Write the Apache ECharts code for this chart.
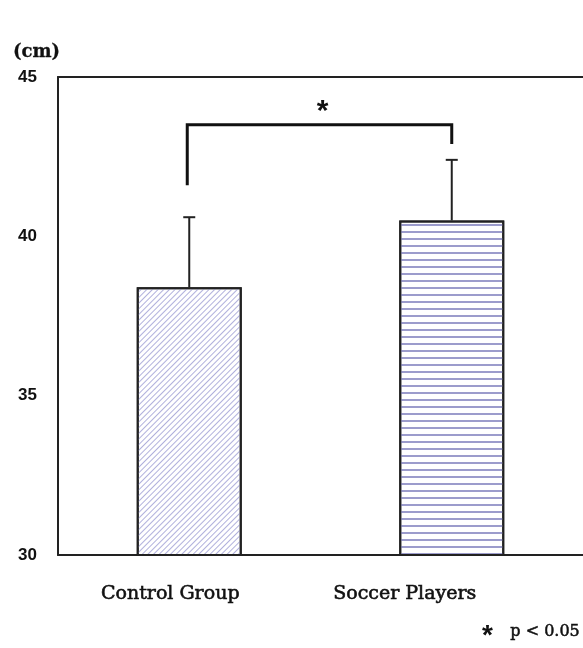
<!DOCTYPE html>
<html>
<head>
<meta charset="utf-8">
<script src="https://cdn.jsdelivr.net/npm/echarts@6/dist/echarts.min.js"></script>
<style>
  html, body { margin: 0; padding: 0; background: #fff; }
  #chart { width: 583px; height: 648px; }
</style>
</head>
<body>
<div id="chart"></div>
<script>
// data
var groups = ['Control Group', 'Soccer Players']
var means = [38.4, 40.5]
var sds = [2.2, 1.9]
var yTicks = [30, 35, 40, 45]
// significance bracket: [category index, lower end value], top at bracketTop
var bracketEnds = [[0, 41.6], [1, 42.9]]
var bracketTop = 43.5
var sigMark = '*'
var footnote = 'p < 0.05'

var serif = '"DejaVu Serif", "Liberation Serif", serif'
var ink = '#111'

var myChart = echarts.init(document.getElementById('chart'))
myChart.setOption({
  animation: false,
  title: {
    text: '(cm)',
    left: 8,
    top: 38,
    textStyle: { fontFamily: serif, fontSize: 18, color: ink, textBorderColor: ink, textBorderWidth: 0.3 }
  },
  graphic: [
    {
      type: 'text',
      left: 482,
      top: 622,
      style: { text: sigMark, font: 'bold 28px "Liberation Sans", sans-serif', fill: ink }
    },
    {
      type: 'text',
      right: 3,
      top: 624,
      style: { text: footnote, font: '16px ' + serif, fill: ink, stroke: ink, lineWidth: 0.5 }
    }
  ],
  grid: {
    left: 58,
    top: 77,
    right: 0,
    bottom: 93
  },
  xAxis: [
    {
      type: 'category',
      data: groups,
      axisLine: { lineStyle: { color: '#222', width: 2 } },
      axisTick: { show: false },
      axisLabel: {
        margin: 30,
        formatter: function (v, i) { return '{l' + i + '|' + v + '}' },
        rich: {
          l0: { fontFamily: serif, fontSize: 19, color: ink, textBorderColor: ink, textBorderWidth: 0.6, padding: [0, 38, 0, 0] },
          l1: { fontFamily: serif, fontSize: 19, color: ink, textBorderColor: ink, textBorderWidth: 0.6, padding: [0, 94, 0, 0] }
        }
      }
    },
    {
      // top frame line only
      type: 'category',
      position: 'top',
      data: groups,
      axisLine: { lineStyle: { color: '#222', width: 2 } },
      axisTick: { show: false },
      axisLabel: { show: false }
    }
  ],
  yAxis: {
    type: 'value',
    min: yTicks[0],
    max: yTicks[yTicks.length - 1],
    interval: 5,
    splitLine: { show: false },
    axisTick: { show: false },
    axisLine: { show: true, lineStyle: { color: '#222', width: 2 } },
    axisLabel: {
      margin: 21,
      padding: [4, 0, 0, 0],
      fontFamily: '"Liberation Sans", Arial, sans-serif',
      fontWeight: 'bold',
      fontSize: 17,
      color: ink
    }
  },
  series: [
    {
      type: 'bar',
      barWidth: '40%',
      data: [
        {
          value: means[0],
          itemStyle: {
            color: '#fff',
            borderColor: '#222',
            borderWidth: 2,
            decal: {
              symbol: 'rect',
              symbolSize: 1,
              dashArrayX: [1, 0],
              dashArrayY: [1, 3],
              rotation: -Math.PI / 4,
              color: '#b0b0dc'
            }
          }
        },
        {
          value: means[1],
          itemStyle: {
            color: '#fff',
            borderColor: '#222',
            borderWidth: 2,
            decal: {
              symbol: 'rect',
              symbolSize: 1,
              dashArrayX: [1, 0],
              dashArrayY: [1.6, 5],
              rotation: 0,
              color: '#9c9ccc'
            }
          }
        }
      ]
    },
    {
      // error bars (upper only)
      type: 'custom',
      data: means.map(function (m, i) { return [i, m, sds[i]] }),
      renderItem: function (params, api) {
        var x = api.value(0)
        var m = api.value(1)
        var sd = api.value(2)
        var base = api.coord([x, m])
        var top = api.coord([x, m + sd])
        var style = { stroke: '#222', lineWidth: 2 }
        return {
          type: 'group',
          children: [
            { type: 'line', shape: { x1: base[0], y1: base[1], x2: top[0], y2: top[1] }, style: style },
            { type: 'line', shape: { x1: top[0] - 6, y1: top[1], x2: top[0] + 6, y2: top[1] }, style: style }
          ]
        }
      },
      z: 3
    },
    {
      // significance bracket
      type: 'custom',
      data: [[bracketEnds[0][0], bracketEnds[0][1], bracketEnds[1][0], bracketEnds[1][1]]],
      renderItem: function (params, api) {
        var a = api.coord([api.value(0), api.value(1)])
        var aTop = api.coord([api.value(0), bracketTop])
        var b = api.coord([api.value(2), api.value(3)])
        var bTop = api.coord([api.value(2), bracketTop])
        return {
          type: 'group',
          children: [
            {
              type: 'polyline',
              shape: { points: [[a[0] - 2, a[1]], [aTop[0] - 2, aTop[1]], [bTop[0], bTop[1]], [b[0], b[1]]] },
              style: { stroke: '#111', lineWidth: 3, fill: null }
            },
            {
              type: 'text',
              style: {
                text: sigMark,
                x: (aTop[0] + bTop[0]) / 2 + 2,
                y: aTop[1] + 2,
                align: 'center',
                verticalAlign: 'bottom',
                font: 'bold 30px "Liberation Sans", sans-serif',
                fill: '#111'
              }
            }
          ]
        }
      },
      z: 4
    }
  ]
})
</script>
</body>
</html>
